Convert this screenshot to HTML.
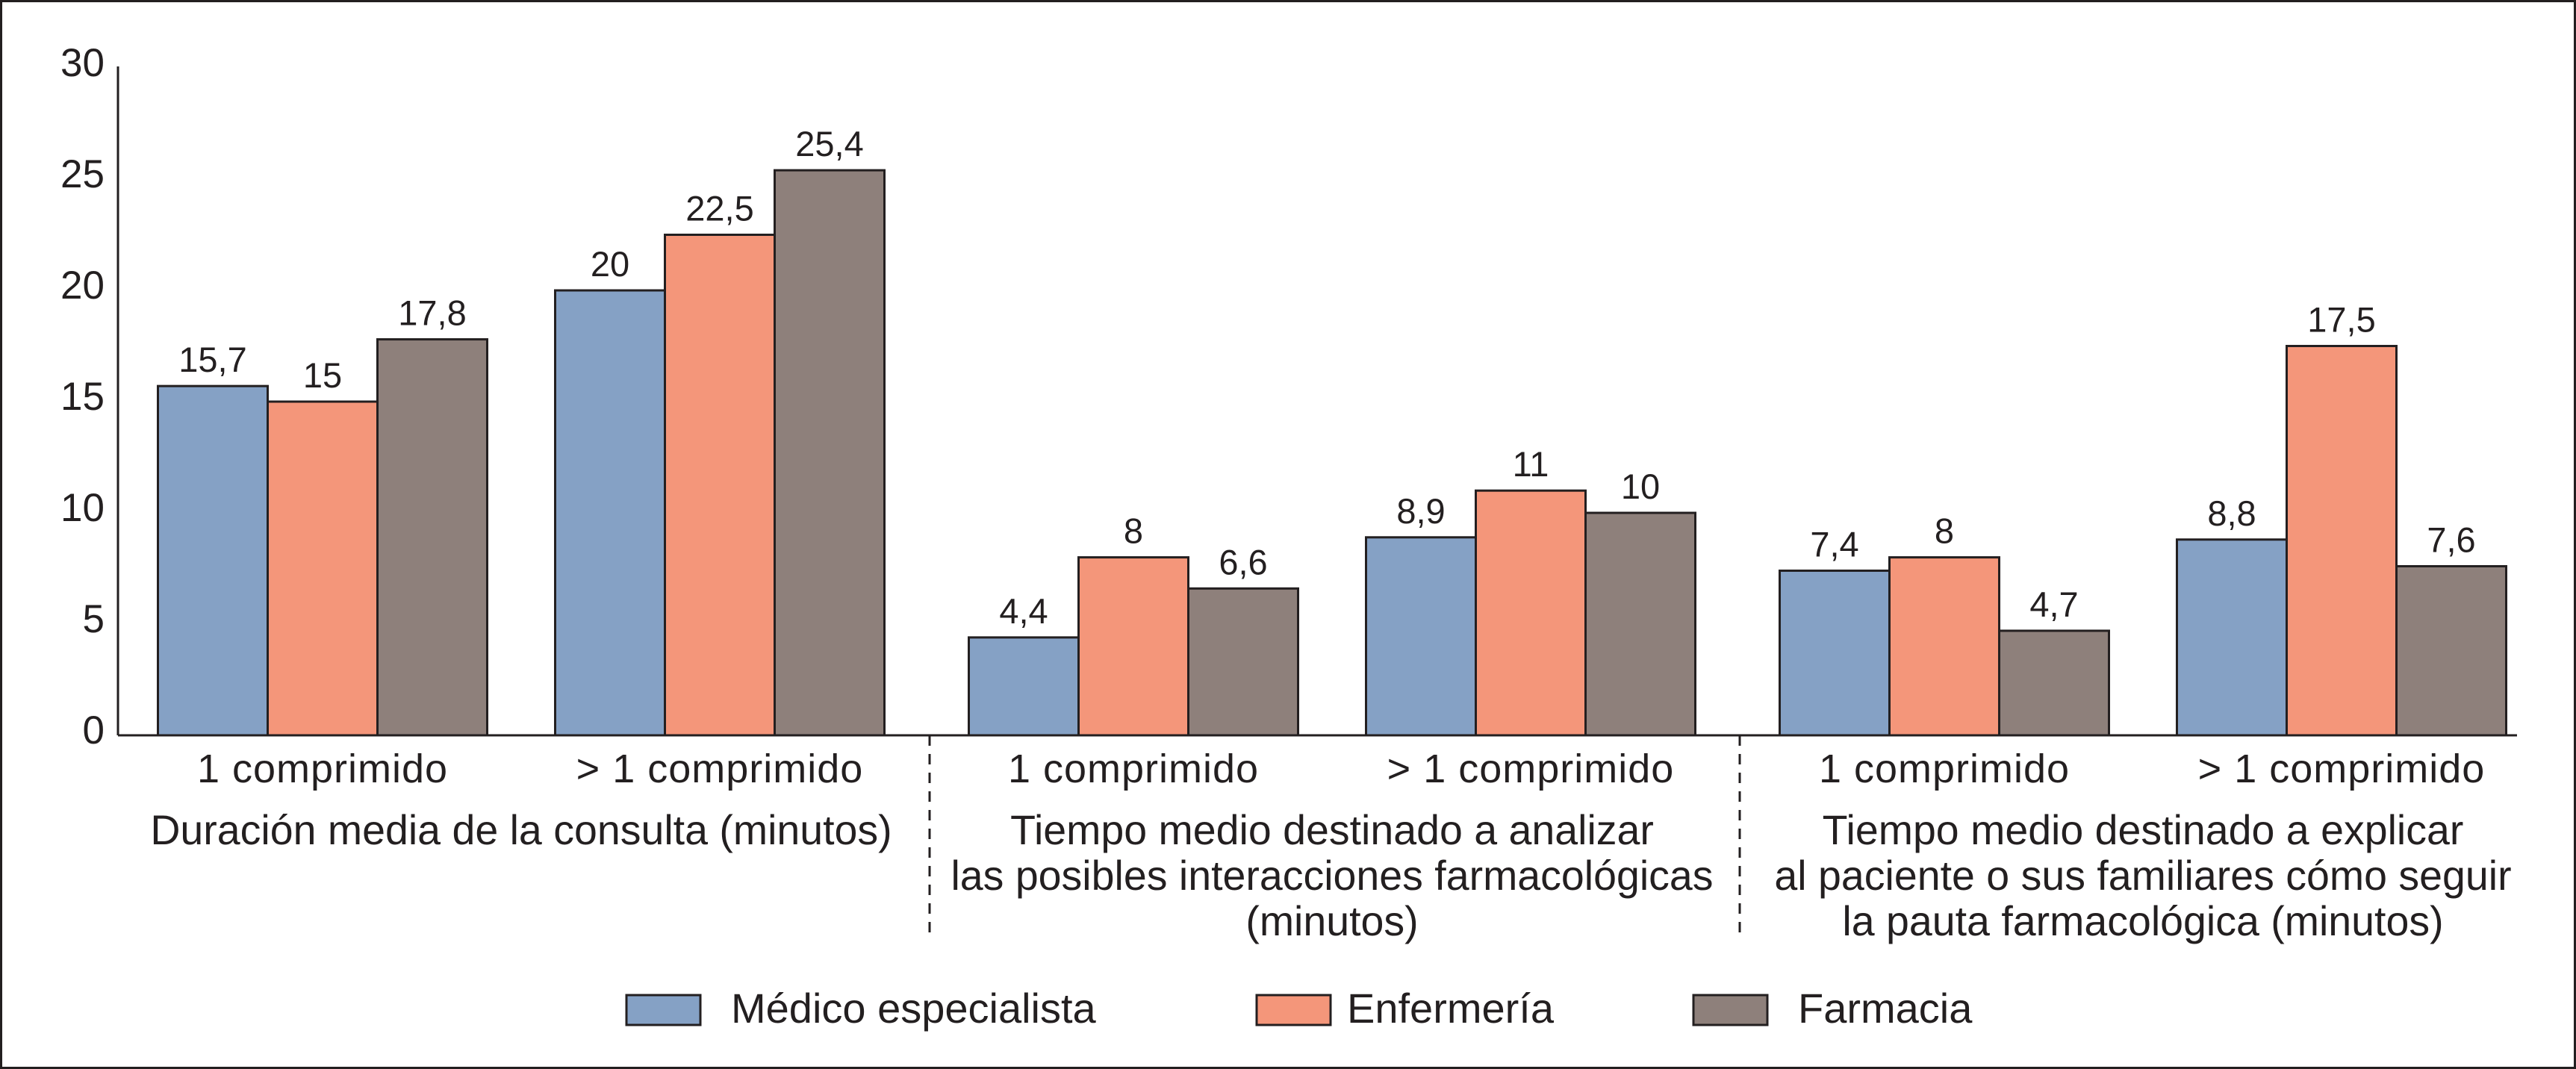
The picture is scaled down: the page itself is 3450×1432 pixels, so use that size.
<!DOCTYPE html>
<html><head><meta charset="utf-8"><style>
html,body{margin:0;padding:0;background:#fff}
svg{display:block}
text{font-family:"Liberation Sans",Arial,sans-serif;fill:#231f20}
</style></head><body>
<svg id="chart" width="3450" height="1432" viewBox="0 0 3450 1432" xmlns="http://www.w3.org/2000/svg">
<rect x="1.5" y="1.5" width="3447" height="1429" fill="#fff" stroke="#231f20" stroke-width="3"/>
<g id="plot"></g>
</svg>
<script>
const categories = ["1 comprimido", "> 1 comprimido", "1 comprimido", "> 1 comprimido", "1 comprimido", "> 1 comprimido"];
const seriesNames = ["Médico especialista", "Enfermería", "Farmacia"];
const medico = [15.7, 20, 4.4, 8.9, 7.4, 8.8];
const enfermeria = [15, 22.5, 8, 11, 8, 17.5];
const farmacia = [17.8, 25.4, 6.6, 10, 4.7, 7.6];
const valueLabels = [["15,7","20","4,4","8,9","7,4","8,8"],["15","22,5","8","11","8","17,5"],["17,8","25,4","6,6","10","4,7","7,6"]];
const yTicks = [0, 5, 10, 15, 20, 25, 30];
const sectionTitles = [["Duración media de la consulta (minutos)"],["Tiempo medio destinado a analizar","las posibles interacciones farmacológicas","(minutos)"],["Tiempo medio destinado a explicar","al paciente o sus familiares cómo seguir","la pauta farmacológica (minutos)"]];

const colors = ["#85a1c5", "#f4967a", "#8e807b"];
const NS = "http://www.w3.org/2000/svg";
const g = document.getElementById('plot');
const baseY = 985, pxPerUnit = 29.8, axisX = 158, axisEnd = 3371;
const groupCenters = [432, 964, 1518, 2050, 2604, 3136];
const barW = 147;
function y(v){ return baseY - v * pxPerUnit; }
function mk(tag, attrs, txt){ const e = document.createElementNS(NS, tag); for (const k in attrs) e.setAttribute(k, attrs[k]); if (txt !== undefined) e.textContent = txt; g.appendChild(e); return e; }

const series = [medico, enfermeria, farmacia];
series.forEach((vals, si) => {
  vals.forEach((v, ci) => {
    const x = groupCenters[ci] - 1.5 * barW + si * barW;
    const r = mk('rect', {x: x, y: y(v), width: barW, height: v * pxPerUnit, fill: colors[si], stroke: '#231f20', 'stroke-width': 3});
    
    
    const t = mk('text', {x: x + barW / 2, y: y(v) - 19, 'font-size': 47, 'text-anchor': 'middle'}, valueLabels[si][ci]);
    
    
  });
});

const ya = mk('line', {x1: axisX, y1: 89, x2: axisX, y2: baseY, stroke: '#231f20', 'stroke-width': 3});


const xa = mk('line', {x1: axisX, y1: baseY, x2: axisEnd, y2: baseY, stroke: '#231f20', 'stroke-width': 3});



yTicks.forEach(v => {
  const t = mk('text', {x: 140, y: y(v) + 11, 'font-size': 53, 'text-anchor': 'end'}, String(v));
  
  
});

categories.forEach((c, i) => {
  const t = mk('text', {x: groupCenters[i], y: 1048, 'font-size': 54, 'text-anchor': 'middle', 'letter-spacing': 1}, c);
  
  
});

sectionTitles.forEach((lines, si) => {
  const cx = (groupCenters[si * 2] + groupCenters[si * 2 + 1]) / 2;
  lines.forEach((ln, li) => {
    const t = mk('text', {x: cx, y: 1131 + li * 61, 'font-size': 55.5, 'text-anchor': 'middle'}, ln);
    
    
  });
});

[1245, 2330].forEach(x => {
  const l = mk('line', {x1: x, y1: baseY, x2: x, y2: 1252, stroke: '#231f20', 'stroke-width': 3, 'stroke-dasharray': '14 11'});
  
  
});

const legBoxX = [839, 1683, 2268], legTextX = [979, 1804, 2408];
seriesNames.forEach((n, i) => {
  const r = mk('rect', {x: legBoxX[i], y: 1333, width: 99, height: 40, fill: colors[i], stroke: '#231f20', 'stroke-width': 3});
  
  
  const t = mk('text', {x: legTextX[i], y: 1370, 'font-size': 56}, n);
  
  
});
</script>
</body></html>
